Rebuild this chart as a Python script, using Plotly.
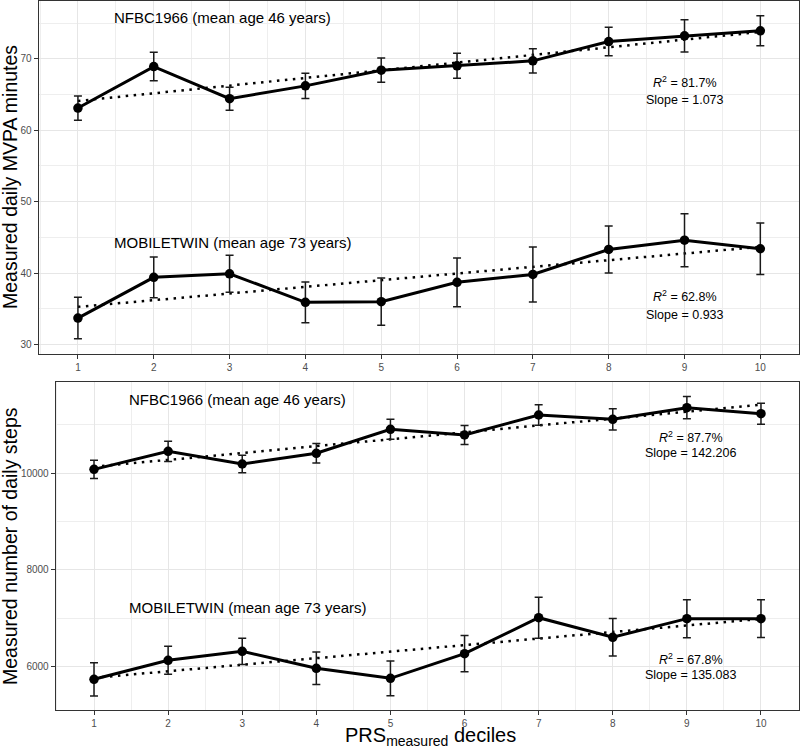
import plotly.graph_objects as go

deciles = [1, 2, 3, 4, 5, 6, 7, 8, 9, 10]

# Top panel: daily MVPA minutes
mvpa_nfbc = [63.1, 68.9, 64.4, 66.2, 68.4, 69.0, 69.7, 72.4, 73.2, 73.9]
mvpa_nfbc_err = [1.7, 2.0, 1.6, 1.75, 1.7, 1.75, 1.7, 2.0, 2.25, 2.1]
mvpa_mobile = [33.7, 39.4, 39.9, 35.9, 36.0, 38.7, 39.8, 43.3, 44.6, 43.4]
mvpa_mobile_err = [2.9, 2.85, 2.6, 2.85, 3.3, 3.4, 3.85, 3.3, 3.7, 3.6]
mvpa_nfbc_slope = 1.073
mvpa_mobile_slope = 0.933
mvpa_ticks = [30, 40, 50, 60, 70]

# Bottom panel: daily steps
steps_nfbc = [10075, 10448, 10186, 10407, 10903, 10785, 11198, 11109, 11349, 11225]
steps_nfbc_err = [186, 210, 183, 203, 206, 196, 210, 220, 230, 217]
steps_mobile = [5740, 6132, 6318, 5967, 5760, 6269, 7012, 6607, 6992, 6992]
steps_mobile_err = [344, 290, 272, 335, 360, 375, 424, 388, 392, 390]
steps_nfbc_slope = 142.206
steps_mobile_slope = 135.083
steps_ticks = [6000, 8000, 10000]

stats_text = {
    "mvpa_nfbc": ("81.7%", "1.073"),
    "mvpa_mobile": ("62.8%", "0.933"),
    "steps_nfbc": ("87.7%", "142.206"),
    "steps_mobile": ("67.8%", "135.083"),
}

W, H = 800, 748


def trend(y, slope):
    mx = sum(deciles) / len(deciles)
    my = sum(y) / len(y)
    b = my - slope * mx
    return [b + slope * x for x in deciles]


fig = go.Figure()


def add_series(y, err, slope, xa, ya):
    fig.add_trace(go.Scatter(
        x=deciles, y=trend(y, slope), mode="lines",
        line=dict(color="black", width=2.5, dash="2.5px,5.5px"),
        xaxis=xa, yaxis=ya, showlegend=False, hoverinfo="skip"))
    fig.add_trace(go.Scatter(
        x=deciles, y=y, mode="lines+markers",
        line=dict(color="black", width=3),
        marker=dict(color="black", size=9.5),
        error_y=dict(type="data", array=err, color="#1a1a1a", thickness=1.5, width=4),
        xaxis=xa, yaxis=ya, showlegend=False))


add_series(mvpa_nfbc, mvpa_nfbc_err, mvpa_nfbc_slope, "x", "y")
add_series(mvpa_mobile, mvpa_mobile_err, mvpa_mobile_slope, "x", "y")
add_series(steps_nfbc, steps_nfbc_err, steps_nfbc_slope, "x2", "y2")
add_series(steps_mobile, steps_mobile_err, steps_mobile_slope, "x2", "y2")


def px_x(p):
    return p / W


def px_y(p):
    return 1 - p / H


axis_common = dict(
    showline=True, linecolor="#333333", linewidth=1, mirror=True,
    ticks="outside", ticklen=4, tickcolor="#333333", tickwidth=1,
    tickfont=dict(family="Liberation Sans, Arial", size=10, color="#4d4d4d"),
    showgrid=True, gridcolor="#e6e6e6", gridwidth=1, zeroline=False,
    automargin=False,
)
minor_x = dict(dtick=1, tick0=0.5, showgrid=True, gridcolor="#eeeeee", gridwidth=0.8, ticks="")

fig.update_layout(
    width=W, height=H,
    margin=dict(l=0, r=0, t=0, b=0, autoexpand=False),
    paper_bgcolor="white", plot_bgcolor="white",
    xaxis=dict(axis_common, domain=[px_x(38.5), px_x(799)], range=[0.48, 10.51],
               tickmode="array", tickvals=deciles, ticktext=[str(d) for d in deciles],
               minor=minor_x, anchor="y"),
    yaxis=dict(axis_common, domain=[px_y(354), px_y(0.5)], range=[28.67, 78.15],
               tickmode="array", tickvals=mvpa_ticks, ticktext=[str(t) for t in mvpa_ticks],
               minor=dict(tickvals=[35, 45, 55, 65, 75], showgrid=True, gridcolor="#eeeeee", gridwidth=0.8, ticks=""),
               anchor="x"),
    xaxis2=dict(axis_common, domain=[px_x(55.7), px_x(799)], range=[0.483, 10.513],
                tickmode="array", tickvals=deciles, ticktext=[str(d) for d in deciles],
                minor=minor_x, anchor="y2"),
    yaxis2=dict(axis_common, domain=[px_y(710), px_y(382.3)], range=[5106, 11873],
                tickmode="array", tickvals=steps_ticks, ticktext=[str(t) for t in steps_ticks],
                minor=dict(tickvals=[7000, 9000, 11000], showgrid=True, gridcolor="#eeeeee", gridwidth=0.8, ticks=""),
                anchor="x2"),
)

tfont = dict(family="Liberation Sans, Arial", size=15, color="black")
sfont = dict(family="Liberation Sans, Arial", size=12.5, color="black")


def ann(text, x, y, xr, yr, font):
    fig.add_annotation(text=text, x=x, y=y, xref=xr, yref=yr, showarrow=False,
                       font=font, xanchor="center", yanchor="middle")


# Top panel labels
ann("NFBC1966 (mean age 46 years)", 2.91, 75.7, "x", "y", tfont)
ann("MOBILETWIN (mean age 73 years)", 3.05, 44.3, "x", "y", tfont)
ann("<i>R</i><sup>2</sup> = " + stats_text["mvpa_nfbc"][0], 9.0, 66.7, "x", "y", sfont)
ann("Slope = " + stats_text["mvpa_nfbc"][1], 9.0, 64.2, "x", "y", sfont)
ann("<i>R</i><sup>2</sup> = " + stats_text["mvpa_mobile"][0], 9.0, 36.8, "x", "y", sfont)
ann("Slope = " + stats_text["mvpa_mobile"][1], 9.0, 34.1, "x", "y", sfont)

# Bottom panel labels
ann("NFBC1966 (mean age 46 years)", 2.94, 11508, "x2", "y2", tfont)
ann("MOBILETWIN (mean age 73 years)", 3.08, 7233, "x2", "y2", tfont)
ann("<i>R</i><sup>2</sup> = " + stats_text["steps_nfbc"][0], 9.05, 10744, "x2", "y2", sfont)
ann("Slope = " + stats_text["steps_nfbc"][1], 9.05, 10413, "x2", "y2", sfont)
ann("<i>R</i><sup>2</sup> = " + stats_text["steps_mobile"][0], 9.05, 6159, "x2", "y2", sfont)
ann("Slope = " + stats_text["steps_mobile"][1], 9.05, 5829, "x2", "y2", sfont)

# Axis titles
afont = dict(family="Liberation Sans, Arial", size=19.5, color="black")
fig.add_annotation(text="Measured daily MVPA minutes", x=px_x(10), y=px_y(177),
                   xref="paper", yref="paper", showarrow=False, textangle=-90,
                   font=afont, xanchor="center", yanchor="middle")
fig.add_annotation(text="Measured number of daily steps", x=px_x(10), y=px_y(546),
                   xref="paper", yref="paper", showarrow=False, textangle=-90,
                   font=afont, xanchor="center", yanchor="middle")
fig.add_annotation(text="PRS<sub>measured</sub> deciles", x=px_x(430), y=px_y(736),
                   xref="paper", yref="paper", showarrow=False,
                   font=dict(family="Liberation Sans, Arial", size=20, color="black"),
                   xanchor="center", yanchor="middle")

fig.write_html("out.html",
               config={"displayModeBar": False},
               post_script="document.body.style.margin='0px';document.body.style.overflow='hidden';")
